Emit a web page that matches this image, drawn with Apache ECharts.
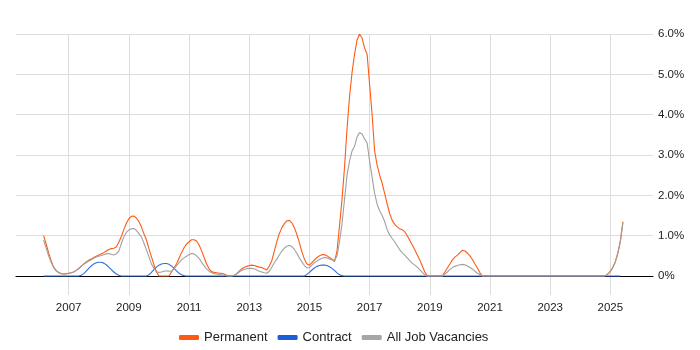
<!DOCTYPE html>
<html>
<head>
<meta charset="utf-8">
<script src="https://cdn.jsdelivr.net/npm/echarts@6/dist/echarts.min.js"></script>
<style>html,body{margin:0;padding:0;background:#fff}#c{width:700px;height:350px}</style>
</head>
<body>
<div id="c"></div>
<script>
// Monthly values, first value = March 2006
const dataStart = '2006-03';
const permanent = [
  1.00, 0.80, 0.58, 0.38, 0.22, 0.14, 0.09, 0.06, 0.05, 0.06,
  0.07, 0.08, 0.10, 0.14, 0.18, 0.24, 0.30, 0.35, 0.39, 0.42, 0.46, 0.49,
  0.52, 0.55, 0.58, 0.62, 0.66, 0.68, 0.69, 0.72, 0.84, 0.98, 1.15, 1.31,
  1.42, 1.48, 1.49, 1.44, 1.35, 1.22, 1.05, 0.90, 0.68, 0.48, 0.28, 0.10,
  0, 0, 0, 0, 0, 0.10, 0.20, 0.30, 0.44, 0.58, 0.70, 0.79,
  0.85, 0.90, 0.90, 0.87, 0.77, 0.63, 0.46, 0.30, 0.18, 0.11, 0.09, 0.08,
  0.07, 0.07, 0.05, 0.02, 0, 0, 0.02, 0.06, 0.12, 0.18, 0.21, 0.24,
  0.26, 0.27, 0.26, 0.24, 0.22, 0.21, 0.18, 0.15, 0.25, 0.38, 0.62, 0.85,
  1.05, 1.20, 1.30, 1.37, 1.38, 1.32, 1.20, 1.03, 0.83, 0.60, 0.42, 0.30,
  0.27, 0.33, 0.40, 0.46, 0.50, 0.53, 0.53, 0.50, 0.46, 0.42, 0.36, 0.62,
  1.25, 1.90, 2.70, 3.65, 4.45, 5.05, 5.50, 5.85, 6.00, 5.90, 5.65, 5.50,
  4.75, 4.00, 3.10, 2.75, 2.50, 2.30, 2.05, 1.78, 1.55, 1.38, 1.28, 1.22,
  1.17, 1.15, 1.10, 1.00, 0.89, 0.77, 0.65, 0.52, 0.40, 0.25, 0.10, 0,
  0, 0, 0, 0, 0, 0, 0.10, 0.20, 0.30, 0.40, 0.47, 0.52,
  0.58, 0.64, 0.62, 0.57, 0.50, 0.41, 0.30, 0.20, 0.08, 0, 0, 0,
  0, 0, 0, 0, 0, 0, 0, 0, 0, 0, 0, 0,
  0, 0, 0, 0, 0, 0, 0, 0, 0, 0, 0, 0,
  0, 0, 0, 0, 0, 0, 0, 0, 0, 0, 0, 0,
  0, 0, 0, 0, 0, 0, 0, 0, 0, 0, 0.01, 0.05,
  0.12, 0.22, 0.36, 0.58, 0.88, 1.35
];
const contract = [
  0, 0, 0, 0, 0, 0, 0, 0, 0, 0,
  0, 0, 0, 0, 0, 0.02, 0.06, 0.12, 0.19, 0.25, 0.30, 0.33,
  0.34, 0.34, 0.32, 0.28, 0.22, 0.16, 0.10, 0.05, 0.02, 0, 0, 0,
  0, 0, 0, 0, 0, 0, 0, 0, 0.03, 0.09, 0.16, 0.22,
  0.27, 0.30, 0.31, 0.31, 0.29, 0.25, 0.19, 0.13, 0.07, 0.03, 0.01, 0,
  0, 0, 0, 0, 0, 0, 0, 0, 0, 0, 0, 0,
  0, 0, 0, 0, 0, 0, 0, 0, 0, 0, 0, 0,
  0, 0, 0, 0, 0, 0, 0, 0, 0, 0, 0, 0,
  0, 0, 0, 0, 0, 0, 0, 0, 0, 0, 0, 0.04,
  0.09, 0.15, 0.20, 0.24, 0.26, 0.27, 0.27, 0.26, 0.23, 0.19, 0.14, 0.08,
  0.03, 0.01, 0, 0, 0, 0, 0, 0, 0, 0, 0, 0,
  0, 0, 0, 0, 0, 0, 0, 0, 0, 0, 0, 0,
  0, 0, 0, 0, 0, 0, 0, 0, 0, 0, 0, 0,
  0, 0, 0, 0, 0, 0, 0, 0, 0, 0, 0, 0,
  0, 0, 0, 0, 0, 0, 0, 0, 0, 0, 0, 0,
  0, 0, 0, 0, 0, 0, 0, 0, 0, 0, 0, 0,
  0, 0, 0, 0, 0, 0, 0, 0, 0, 0, 0, 0,
  0, 0, 0, 0, 0, 0, 0, 0, 0, 0, 0, 0,
  0, 0, 0, 0, 0, 0, 0, 0, 0, 0, 0, 0,
  0, 0, 0, 0, 0
];
const allJobs = [
  0.89, 0.70, 0.50, 0.34, 0.21, 0.13, 0.08, 0.06, 0.05, 0.05,
  0.07, 0.08, 0.10, 0.14, 0.19, 0.25, 0.29, 0.33, 0.37, 0.40, 0.44, 0.47,
  0.49, 0.51, 0.53, 0.55, 0.56, 0.54, 0.52, 0.55, 0.62, 0.80, 0.97, 1.08,
  1.14, 1.17, 1.18, 1.13, 1.05, 0.97, 0.82, 0.65, 0.48, 0.30, 0.19, 0.11,
  0.09, 0.10, 0.12, 0.13, 0.12, 0.12, 0.18, 0.25, 0.33, 0.40, 0.45, 0.49,
  0.53, 0.56, 0.55, 0.50, 0.44, 0.34, 0.25, 0.18, 0.12, 0.08, 0.06, 0.05,
  0.04, 0.03, 0.02, 0.01, 0, 0, 0.02, 0.05, 0.10, 0.14, 0.16, 0.18,
  0.19, 0.19, 0.18, 0.15, 0.12, 0.10, 0.08, 0.07, 0.12, 0.22, 0.33, 0.42,
  0.52, 0.62, 0.69, 0.74, 0.76, 0.73, 0.66, 0.56, 0.45, 0.35, 0.26, 0.20,
  0.21, 0.27, 0.33, 0.37, 0.41, 0.44, 0.46, 0.45, 0.42, 0.40, 0.39, 0.50,
  0.85, 1.30, 1.90, 2.50, 2.85, 3.10, 3.22, 3.45, 3.56, 3.52, 3.40, 3.30,
  2.85, 2.45, 2.05, 1.78, 1.62, 1.50, 1.35, 1.15, 1.02, 0.93, 0.85, 0.75,
  0.65, 0.58, 0.52, 0.45, 0.38, 0.32, 0.27, 0.22, 0.16, 0.09, 0.03, 0,
  0, 0, 0, 0, 0, 0, 0.05, 0.10, 0.16, 0.21, 0.24, 0.26,
  0.28, 0.29, 0.28, 0.25, 0.21, 0.17, 0.12, 0.07, 0.03, 0, 0, 0,
  0, 0, 0, 0, 0, 0, 0, 0, 0, 0, 0, 0,
  0, 0, 0, 0, 0, 0, 0, 0, 0, 0, 0, 0,
  0, 0, 0, 0, 0, 0, 0, 0, 0, 0, 0, 0,
  0, 0, 0, 0, 0, 0, 0, 0, 0, 0, 0.01, 0.05,
  0.11, 0.21, 0.35, 0.56, 0.86, 1.32
];
const seriesNames = ['Permanent', 'Contract', 'All Job Vacancies'];
const yTicks = [0, 1, 2, 3, 4, 5, 6];
const xTickYears = ['2007', '2009', '2011', '2013', '2015', '2017', '2019', '2021', '2023', '2025'];

// monthly category axis from Apr 2005 to Jun 2026
const months = [];
for (let y = 2005, m = 4; y < 2026 || (y === 2026 && m <= 6); ) {
  months.push(y + '-' + String(m).padStart(2, '0'));
  m++; if (m > 12) { m = 1; y++; }
}
const startIdx = months.indexOf(dataStart);
function place(arr) {
  const out = months.map(() => null);
  arr.forEach((v, i) => { out[startIdx + i] = v; });
  return out;
}
const isTick = (idx, val) => {
  const v = months[idx];
  return v.endsWith('-01') && xTickYears.indexOf(v.slice(0, 4)) >= 0;
};

const chart = echarts.init(document.getElementById('c'), null, { renderer: 'canvas' });
chart.setOption({
  animation: false,
  textStyle: { fontFamily: 'Liberation Sans, Arial, sans-serif' },
  grid: { left: 16, right: 47, top: 34, bottom: 55 },
  legend: {
    left: 174, top: 326,
    itemWidth: 20, itemHeight: 5, itemGap: 10,
    icon: 'roundRect',
    textStyle: { fontSize: 13, color: '#222', fontFamily: 'Liberation Sans, Arial, sans-serif' },
    data: seriesNames
  },
  xAxis: {
    type: 'category',
    data: months,
    boundaryGap: false,
    axisLine: { lineStyle: { color: '#000', width: 1.2 } },
    axisTick: { show: false },
    axisLabel: {
      interval: isTick,
      formatter: v => v.slice(0, 4),
      fontSize: 11.5, color: '#222', margin: 7,
      fontFamily: 'Liberation Sans, Arial, sans-serif'
    },
    splitLine: { show: true, interval: isTick, lineStyle: { color: '#dddddd', width: 1 } }
  },
  yAxis: {
    type: 'value',
    position: 'right',
    min: -0.47, max: 6,
    axisLine: { show: false },
    axisTick: { show: false, customValues: yTicks },
    axisLabel: {
      customValues: yTicks,
      formatter: v => v === 0 ? '0%' : v.toFixed(1) + '%',
      fontSize: 11.5, color: '#222', margin: 5,
      fontFamily: 'Liberation Sans, Arial, sans-serif'
    },
    splitLine: { show: true, lineStyle: { color: '#dddddd', width: 1 } }
  },
  series: [
    { name: seriesNames[0], type: 'line', data: place(permanent), showSymbol: false, symbol: 'none',
      color: '#ff5a14', lineStyle: { width: 1.1, color: '#ff5a14' } },
    { name: seriesNames[1], type: 'line', data: place(contract), showSymbol: false, symbol: 'none',
      color: '#1a5fd9', lineStyle: { width: 1.1, color: '#2f6fe0' } },
    { name: seriesNames[2], type: 'line', data: place(allJobs), showSymbol: false, symbol: 'none',
      color: '#a6a6a6', lineStyle: { width: 1.1, color: '#a0a0a0' } }
  ]
});
</script>
</body>
</html>
